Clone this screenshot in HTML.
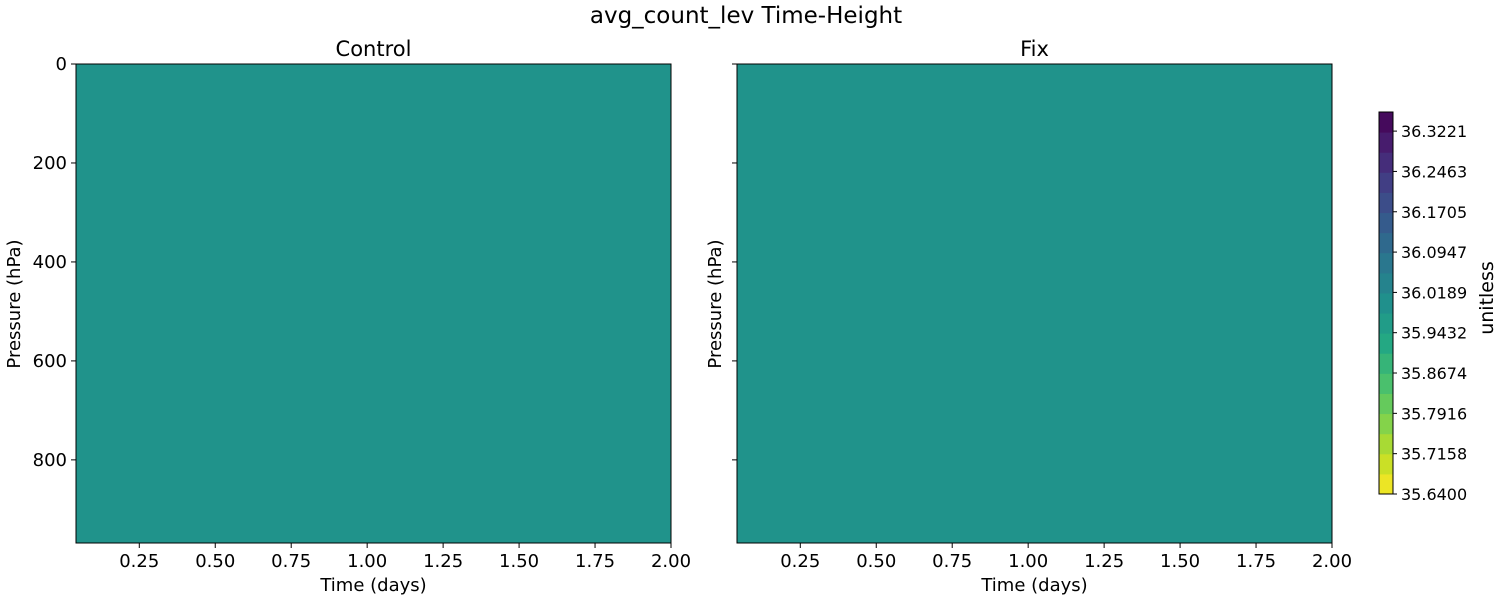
<!DOCTYPE html>
<html><head><meta charset="utf-8"><style>
body{margin:0;background:#fff;font-family:"Liberation Sans","DejaVu Sans",sans-serif;}
svg text{font-family:"DejaVu Sans","Liberation Sans",sans-serif;fill:#000}
</style></head><body>
<svg id="fig" width="1500" height="600" xmlns="http://www.w3.org/2000/svg">
<rect width="1500" height="600" fill="#fff"/>
<text x="746" y="23" font-size="23" text-anchor="middle">avg_count_lev Time-Height</text>
</svg>
<script>
const xTicks=[0.25,0.5,0.75,1.0,1.25,1.5,1.75,2.0];
const xTickLabels=["0.25","0.50","0.75","1.00","1.25","1.50","1.75","2.00"];
const yTicks=[0,200,400,600,800];
const panelTitles=["Control","Fix"];
const fieldValues=[35.99,35.99];
const cbTicks=[35.6400,35.7158,35.7916,35.8674,35.9432,36.0189,36.0947,36.1705,36.2463,36.3221];
const cbMin=35.64, cbMax=36.358;
const xMin=0.0417,xMax=2.0,yMin=0,yMax=968;
const NS="http://www.w3.org/2000/svg";
const svg=document.getElementById('fig');
function mk(t,a,p){const e=document.createElementNS(NS,t);for(const k in a)e.setAttribute(k,a[k]);(p||svg).appendChild(e);return e;}
const vir=[[68,1,84],[72,35,116],[64,67,135],[52,94,141],[41,120,142],[32,144,140],[34,167,132],[68,190,112],[121,209,81],[189,222,38],[253,231,37]];
function viridis(t){t=Math.max(0,Math.min(1,t));const f=t*10,i=Math.min(9,Math.floor(f)),r=f-i;const a=vir[i],b=vir[i+1];return `rgb(${a.map((v,k)=>Math.round(v+(b[k]-v)*r)).join(',')})`;}
const panels=[{x0:76,x1:671},{x0:737,x1:1332}];const Y0=64,Y1=543;
panels.forEach((p,i)=>{
  const sx=v=>p.x0+(v-xMin)/(xMax-xMin)*(p.x1-p.x0);
  const sy=v=>Y0+(v-yMin)/(yMax-yMin)*(Y1-Y0);
  const g=mk('g',{});
  
  
  const r=mk('rect',{x:sx(xMin),y:sy(yMin),width:sx(xMax)-sx(xMin),height:sy(yMax)-sy(yMin),fill:viridis(1-(fieldValues[i]-cbMin)/(cbMax-cbMin)),stroke:'#000','stroke-width':1},g);
  
  
  const t=mk('text',{x:(p.x0+p.x1)/2,y:56,'font-size':21,'text-anchor':'middle'},g);t.textContent=panelTitles[i];
  
  
  xTicks.forEach((v,k)=>{const x=sx(v);mk('line',{x1:x,x2:x,y1:Y1,y2:Y1+5,stroke:'#000'},g);
    const l=mk('text',{x:x,y:Y1+24,'font-size':18,'text-anchor':'middle'},g);l.textContent=xTickLabels[k];
    
    });
  yTicks.forEach(v=>{const y=sy(v);mk('line',{x1:p.x0-5,x2:p.x0,y1:y,y2:y,stroke:'#000'},g);
    if(i===0){const l=mk('text',{x:p.x0-9,y:y+6,'font-size':18,'text-anchor':'end'},g);l.textContent=v;
    
    }});
  const xl=mk('text',{x:(p.x0+p.x1)/2,y:591,'font-size':18,'text-anchor':'middle'},g);xl.textContent='Time (days)';
  
  
  const yx=i===0?20:721;
  const yl=mk('text',{x:yx,y:304,'font-size':18,'text-anchor':'middle',transform:`rotate(-90 ${yx} 304)`},g);yl.textContent='Pressure (hPa)';
  
  
});
const cb=mk('g',{});


const cx0=1379,cx1=1393,cy0=112,cy1=494,nb=19;
const cy=v=>cy1-(v-cbMin)/(cbMax-cbMin)*(cy1-cy0);
for(let k=0;k<nb;k++){const a=cbMin+(cbMax-cbMin)*k/nb,b=cbMin+(cbMax-cbMin)*(k+1)/nb;
  mk('rect',{x:cx0,y:cy(b),width:cx1-cx0,height:cy(a)-cy(b)+0.5,fill:viridis(1-(k+0.5)/nb)},cb);}
mk('rect',{x:cx0,y:cy0,width:cx1-cx0,height:cy1-cy0,fill:'none',stroke:'#000'},cb);
cbTicks.forEach(v=>{const y=cy(v);mk('line',{x1:cx1,x2:cx1+4,y1:y,y2:y,stroke:'#000'},cb);
  const l=mk('text',{x:cx1+8,y:y+6,'font-size':16},cb);l.textContent=v.toFixed(4);
  
  });
const ul=mk('text',{x:1493,y:298,'font-size':19,'text-anchor':'middle',transform:'rotate(-90 1493 298)'},cb);ul.textContent='unitless';


</script>
</body></html>
